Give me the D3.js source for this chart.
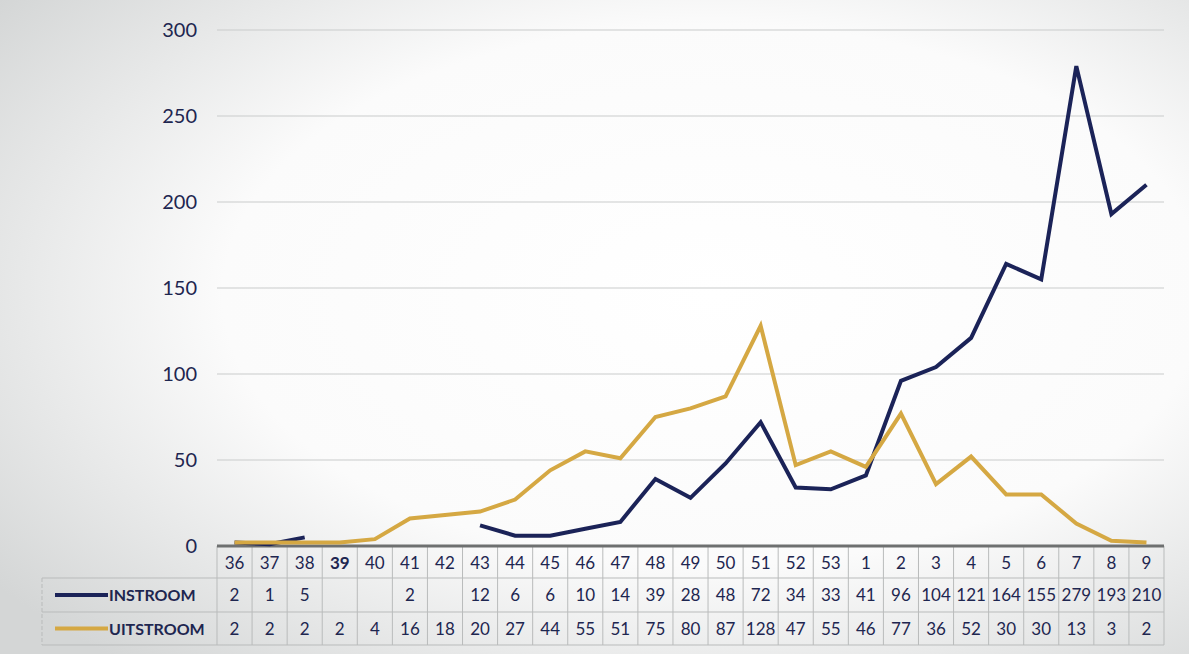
<!DOCTYPE html>
<html>
<head>
<meta charset="utf-8">
<script src="https://cdn.jsdelivr.net/npm/d3@7"></script>
<style>
  html, body { margin: 0; padding: 0; background: #fff; }
  svg { display: block; }
</style>
</head>
<body>
<svg id="chart" width="1189" height="654"></svg>
<script>
const weeks = ["36","37","38","39","40","41","42","43","44","45","46","47","48","49","50","51","52","53","1","2","3","4","5","6","7","8","9"];
const instroom = [2,1,5,null,null,2,null,12,6,6,10,14,39,28,48,72,34,33,41,96,104,121,164,155,279,193,210];
const uitstroom = [2,2,2,2,4,16,18,20,27,44,55,51,75,80,87,128,47,55,46,77,36,52,30,30,13,3,2];
const yTicks = [0,50,100,150,200,250,300];
const seriesNames = ["INSTROOM","UITSTROOM"];

(function () {
const W = 1189, H = 654;
const plotLeft = 217, plotRight = 1164, plotTop = 30, zeroY = 546;
const navy = "#1b2358", gold = "#d5a843", textCol = "#1e2650";
const font = "Lato, 'Open Sans', sans-serif";

const svg = d3.select("#chart");
const defs = svg.append("defs");
const rg = defs.append("radialGradient").attr("id","bg").attr("cx","0.6").attr("cy","0.45").attr("r","0.75");
rg.append("stop").attr("offset","0").attr("stop-color","#ffffff");
rg.append("stop").attr("offset","0.55").attr("stop-color","#fbfbfb");
rg.append("stop").attr("offset","1").attr("stop-color","#d4d6d6");
svg.append("rect").attr("width",W).attr("height",H).attr("fill","url(#bg)");

const x = d3.scaleBand().domain(weeks).range([plotLeft, plotRight]).padding(0);
const y = d3.scaleLinear().domain([0,300]).range([zeroY, plotTop]);
const cx = w => x(w) + x.bandwidth()/2;

// gridlines
svg.append("g").selectAll("line").data(yTicks.filter(t => t > 0)).join("line")
  .attr("x1", plotLeft).attr("x2", plotRight)
  .attr("y1", d => y(d)).attr("y2", d => y(d))
  .attr("stroke", "#c9cbcb").attr("stroke-width", 1.2);

// y axis labels
const yAxis = d3.axisLeft(y).tickValues(yTicks).tickSize(0).tickPadding(20);
const ga = svg.append("g").attr("transform", `translate(${plotLeft},0)`).call(yAxis);
ga.select(".domain").remove();
ga.selectAll("text").attr("font-family", font).attr("font-size", 20).attr("fill", textCol);

// table
const rowY = [546, 578, 612, 645];
const tg = svg.append("g");
const vx = weeks.map(w => x(w)).concat([plotRight]);
tg.selectAll("line.v").data(vx).join("line")
  .attr("x1", d => d).attr("x2", d => d)
  .attr("y1", rowY[0]).attr("y2", rowY[3])
  .attr("stroke", "#b9bbbb").attr("stroke-width", 1);
tg.selectAll("line.h").data([1,2,3]).join("line")
  .attr("x1", 42).attr("x2", plotRight)
  .attr("y1", d => rowY[d]).attr("y2", d => rowY[d])
  .attr("stroke", "#b9bbbb").attr("stroke-width", 1);
tg.append("line").attr("x1",42).attr("x2",42).attr("y1",rowY[1]).attr("y2",rowY[3])
  .attr("stroke","#b9bbbb").attr("stroke-dasharray","4,2");
svg.append("line").attr("x1", plotLeft).attr("x2", plotRight).attr("y1", zeroY).attr("y2", zeroY)
  .attr("stroke", "#6e7070").attr("stroke-width", 3);

// header row
tg.selectAll("text.wk").data(weeks).join("text")
  .attr("x", d => cx(d)).attr("y", (rowY[0]+rowY[1])/2 + 7)
  .attr("text-anchor","middle").attr("font-family", font).attr("font-size", 17)
  .attr("font-weight", d => d === "39" ? 700 : 400)
  .attr("fill", textCol).text(d => d);

const rows = [instroom, uitstroom];
rows.forEach((vals, r) => {
  tg.append("g").selectAll("text").data(vals.map((v,i) => ({v, w: weeks[i]}))).join("text")
    .attr("x", d => cx(d.w)).attr("y", (rowY[r+1]+rowY[r+2])/2 + 6)
    .attr("text-anchor","middle").attr("font-family", font).attr("font-size", 17)
    .attr("fill", textCol).text(d => d.v == null ? "" : d.v);
});

// legend in table
const colors = [navy, gold];
seriesNames.forEach((n, r) => {
  const ym = (rowY[r+1]+rowY[r+2])/2;
  tg.append("line").attr("x1", 55).attr("x2", 108).attr("y1", ym).attr("y2", ym)
    .attr("stroke", colors[r]).attr("stroke-width", 4);
  tg.append("text").attr("x", 109).attr("y", ym + 6).attr("font-family", font)
    .attr("font-size", 16).attr("font-weight", 700).attr("fill", textCol).text(n);
});

// lines
const line = d3.line()
  .defined(d => d.v != null)
  .x(d => cx(d.w)).y(d => y(d.v));
const toPts = vals => vals.map((v,i) => ({v, w: weeks[i]}));
svg.append("path").datum(toPts(instroom)).attr("d", line)
  .attr("fill","none").attr("stroke", navy).attr("stroke-width", 4);
svg.append("path").datum(toPts(uitstroom)).attr("d", line)
  .attr("fill","none").attr("stroke", gold).attr("stroke-width", 4);
})();
</script>
</body>
</html>
